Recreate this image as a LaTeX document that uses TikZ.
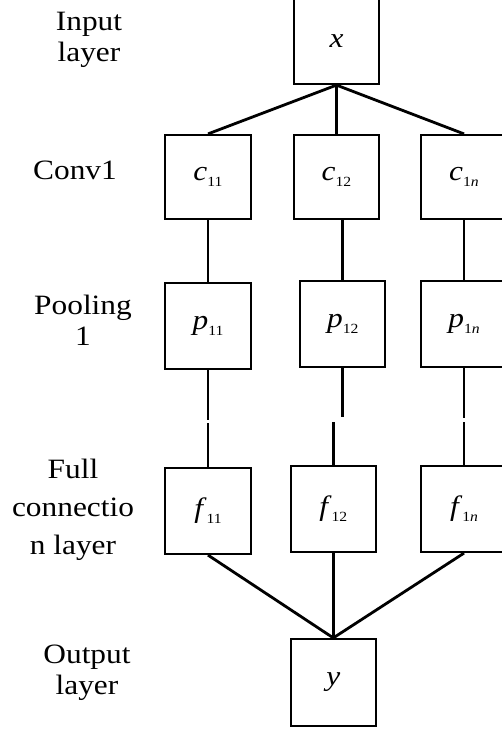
\documentclass[tikz,border=0pt]{standalone}
\usepackage{fontspec}
\setmainfont{Liberation Serif}[FakeStretch=1.12]
\newcommand\boxlab[2]{\textit{#1}\raisebox{-0.45ex}{\fontsize{14}{14}\selectfont #2}}
\tikzset{
  layerbox/.style={draw, line width=2.2pt, minimum width=85pt, minimum height=85pt, inner sep=0pt, font=\fontsize{28}{30}\selectfont},
  conn/.style={line width=2.8pt},
  sidelab/.style={align=center, inner sep=0pt, font=\fontsize{28}{31}\selectfont}
}
\begin{document}
\begin{tikzpicture}[x=1pt,y=-1pt]
\useasboundingbox (0,0) rectangle (502,731);
% boxes
\node[layerbox, minimum height=86pt] (x) at (336.5,41) {\textit{x}};
\node[layerbox, minimum width=86pt, minimum height=84pt] (c11) at (208,177) {\boxlab{c}{11}};
\node[layerbox, minimum height=84pt] (c12) at (336.5,177) {\boxlab{c}{12}};
\node[layerbox, minimum width=86pt, minimum height=84pt] (c1n) at (464,177) {\boxlab{c}{1\textit{n}}};
\node[layerbox, minimum width=86pt, minimum height=86pt] (p11) at (208,326) {\boxlab{p}{11}};
\node[layerbox, minimum height=86pt] (p12) at (342.8,324) {\boxlab{p}{12}};
\node[layerbox, minimum width=86pt, minimum height=86pt] (p1n) at (464,324) {\boxlab{p}{1\textit{n}}};
\node[layerbox, minimum width=86pt, minimum height=86pt] (f11) at (208,511) {\boxlab{f}{11}};
\node[layerbox, minimum height=86pt] (f12) at (333.3,509) {\boxlab{f}{12}};
\node[layerbox, minimum width=86pt, minimum height=86pt] (f1n) at (464,509) {\boxlab{f}{1\textit{n}}};
\node[layerbox, minimum height=87pt] (y) at (333.3,682.5) {\textit{y}};
% side labels
\node[sidelab] (l1) at (89,40) {Input\\layer};
\node[sidelab] (l2) at (75,170) {Conv1};
\node[sidelab] (l3) at (83,320) {Pooling\\1};
\node[sidelab, font=\fontsize{28}{38}\selectfont] (l4) at (73,510) {Full\\connectio\\n layer};
\node[sidelab] (l5) at (87,673) {Output\\layer};
% connector ends
\coordinate (g11a) at (208,420);
\coordinate (g11b) at (208,423);
\coordinate (g12a) at (342.8,417);
\coordinate (g12b) at (333.3,422);
\coordinate (g1na) at (464,418);
\coordinate (g1nb) at (464,422);
% connectors
\draw[conn] (x.south) -- (c11.north);
\draw[conn] (x.south) -- (c12.north);
\draw[conn] (x.south) -- (c1n.north);
\draw[conn] (c11.south) -- (p11.north);
\draw[conn] (c12.south -| p12.north) -- (p12.north);
\draw[conn] (c1n.south) -- (p1n.north);
\draw[conn] (p11.south) -- (g11a);
\draw[conn] (g11b) -- (f11.north);
\draw[conn] (p12.south) -- (g12a);
\draw[conn] (g12b) -- (f12.north);
\draw[conn] (p1n.south) -- (g1na);
\draw[conn] (g1nb) -- (f1n.north);
\draw[conn] (f11.south) -- (y.north);
\draw[conn] (f12.south) -- (y.north);
\draw[conn] (f1n.south) -- (y.north);
\end{tikzpicture}
\end{document}
